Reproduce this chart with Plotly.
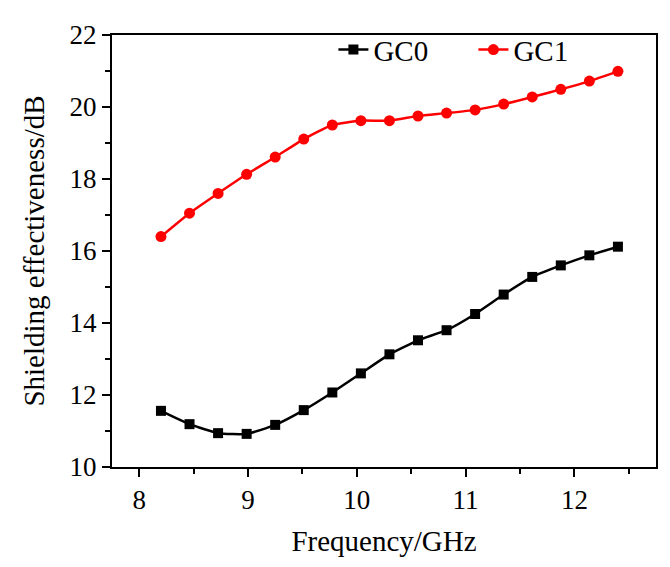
import plotly.graph_objects as go

# frequency points (GHz)
freq = [8.2, 8.4625, 8.725, 8.9875, 9.25, 9.5125, 9.775, 10.0375, 10.3,
        10.5625, 10.825, 11.0875, 11.35, 11.6125, 11.875, 12.1375, 12.4]

# shielding effectiveness (dB)
gc0 = [11.56, 11.19, 10.94, 10.92, 11.17, 11.58, 12.07, 12.60, 13.13,
       13.52, 13.80, 14.25, 14.79, 15.28, 15.60, 15.88, 16.12]
gc1 = [16.40, 17.05, 17.60, 18.13, 18.61, 19.11, 19.50, 19.62, 19.62,
       19.75, 19.83, 19.92, 20.08, 20.28, 20.49, 20.72, 20.99]

font_family = "Liberation Serif"

fig = go.Figure()
fig.add_trace(go.Scatter(
    x=freq, y=gc0, name="GC0", mode="lines+markers",
    line=dict(color="black", width=2.5, shape="spline", smoothing=0.5),
    marker=dict(symbol="square", size=10, color="black"),
))
fig.add_trace(go.Scatter(
    x=freq, y=gc1, name="GC1", mode="lines+markers",
    line=dict(color="red", width=2.5, shape="spline", smoothing=0.5),
    marker=dict(symbol="circle", size=11, color="red"),
))

axis_common = dict(
    showline=True, linecolor="black", linewidth=2, mirror=True,
    ticks="outside", ticklen=8, tickwidth=2, tickcolor="black",
    showgrid=False, zeroline=False,
    tickfont=dict(family=font_family, size=27, color="black"),
)
minor_ticks = dict(ticks="outside", ticklen=5, tickwidth=2, tickcolor="black")

# page body adds an 8px offset, margins compensate for it
fig.update_layout(
    width=670, height=567,
    margin=dict(l=104, r=22, t=22, b=108),
    plot_bgcolor="white", paper_bgcolor="white",
    font=dict(family=font_family, color="black"),
    xaxis=dict(
        range=[7.75, 12.75], dtick=1, tick0=8,
        minor=dict(dtick=0.5, **minor_ticks),
        title=dict(text="Frequency/GHz", font=dict(family=font_family, size=29), standoff=16),
        **axis_common,
    ),
    yaxis=dict(
        range=[10, 22], dtick=2, tick0=10,
        minor=dict(dtick=1, **minor_ticks),
        title=dict(text="Shielding effectiveness/dB", font=dict(family=font_family, size=29), standoff=16),
        **axis_common,
    ),
    legend=dict(
        orientation="h", x=0.407, y=1.025, xanchor="left", yanchor="top",
        font=dict(family=font_family, size=29, color="black"),
        bgcolor="rgba(0,0,0,0)", entrywidth=95, entrywidthmode="pixels",
    ),
)

fig.write_html("out.html")
